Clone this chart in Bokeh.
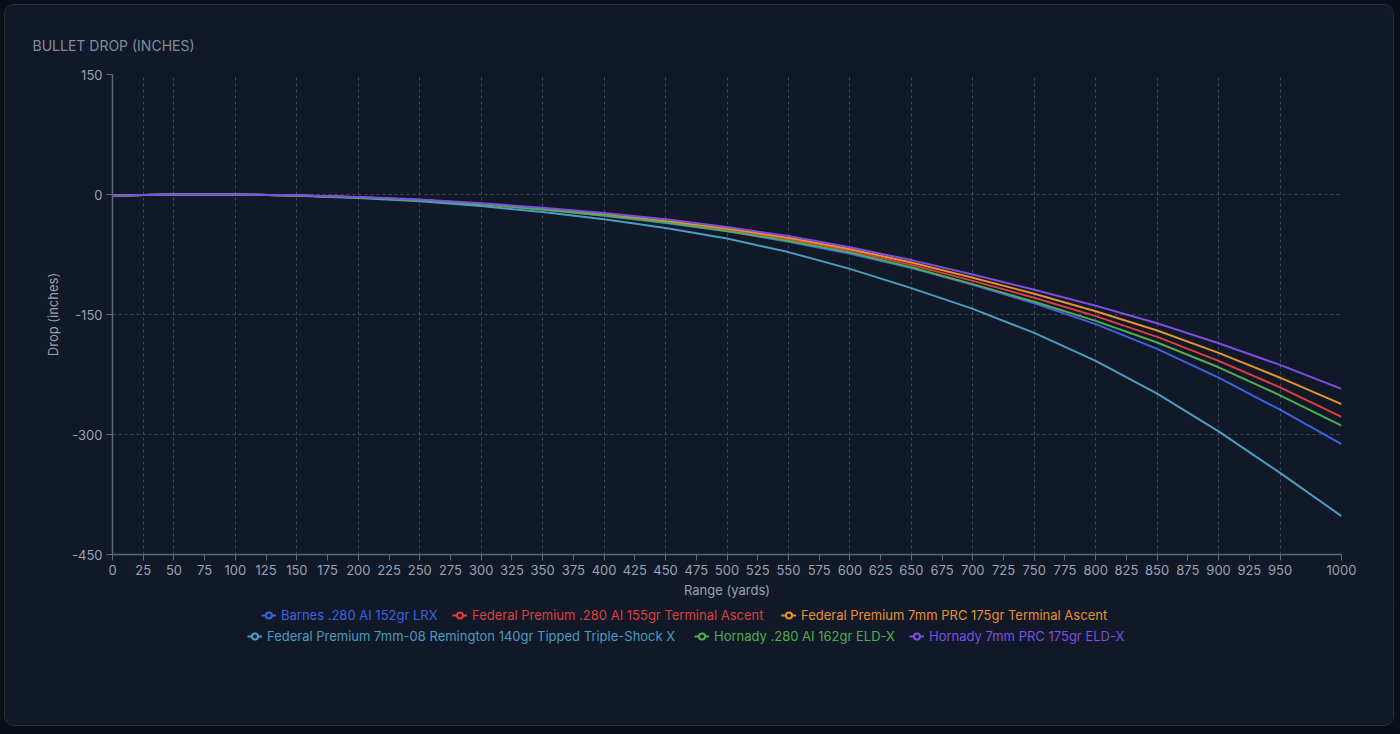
from bokeh.plotting import figure
from bokeh.layouts import column
from bokeh.models import (ColumnDataSource, FixedTicker, Legend, LegendItem,
                          GlobalInlineStyleSheet, PrintfTickFormatter)
from bokeh.embed import file_html
from bokeh.resources import INLINE

# range in yards
yards = [0, 25, 50, 100, 150, 200, 250, 300, 350, 400, 450, 500,
         550, 600, 650, 700, 750, 800, 850, 900, 950, 1000]

# drop in inches
barnes_280ai_152 = [-1.5, -0.6, 0.0, 0.0, -1.2, -3.6, -7.2, -12.3, -18.8, -26.5, -35.5, -46.0,
                    -59.0, -74.0, -92.0, -113.0, -136.0, -162.0, -193.0, -229.0, -269.0, -312.0]
fed_280ai_155 = [-1.5, -0.6, 0.0, 0.0, -1.1, -3.5, -7.0, -12.0, -18.2, -25.6, -34.2, -44.2,
                 -56.0, -70.0, -88.0, -108.0, -129.0, -152.0, -178.0, -208.0, -241.0, -278.0]
fed_7prc_175 = [-1.5, -0.6, 0.0, 0.0, -1.1, -3.4, -6.8, -11.6, -17.6, -24.8, -33.0, -42.5,
                -54.0, -68.0, -85.0, -104.0, -124.0, -146.0, -170.0, -198.0, -229.0, -262.0]
fed_708_140 = [-1.5, -0.5, 0.1, 0.0, -1.5, -4.5, -8.5, -14.5, -22.0, -31.0, -42.0, -55.0,
               -72.0, -93.0, -117.0, -143.0, -173.0, -208.0, -249.0, -296.0, -348.0, -402.0]
horn_280ai_162 = [-1.5, -0.6, 0.0, 0.0, -1.2, -3.6, -7.2, -12.2, -18.6, -26.2, -35.0, -45.5,
                  -58.0, -72.5, -91.0, -112.0, -134.0, -158.0, -185.0, -216.0, -251.0, -289.0]
horn_7prc_175 = [-1.5, -0.6, 0.0, 0.0, -1.0, -3.2, -6.3, -11.0, -16.5, -23.0, -31.0, -40.5,
                 -52.0, -66.0, -82.0, -100.0, -119.0, -139.0, -161.0, -186.0, -213.0, -243.0]

names = ["Barnes .280 AI 152gr LRX",
         "Federal Premium .280 AI 155gr Terminal Ascent",
         "Federal Premium 7mm PRC 175gr Terminal Ascent",
         "Federal Premium 7mm-08 Remington 140gr Tipped Triple-Shock X",
         "Hornady .280 AI 162gr ELD-X",
         "Hornady 7mm PRC 175gr ELD-X"]
series = [barnes_280ai_152, fed_280ai_155, fed_7prc_175,
          fed_708_140, horn_280ai_162, horn_7prc_175]
colors = ["#3d63e3", "#dc4040", "#e6922f", "#4a9cc2", "#4fae50", "#7d4fe0"]

x_ticks = list(range(0, 951, 25)) + [1000]
x_grid = [25] + list(range(50, 1001, 50))
y_ticks = [-450, -300, -150, 0, 150]

# legend spots in the legend strip (px from frame left, px from bottom)
legend_pos = [(149, 102), (340, 102), (669, 102),
              (135, 81), (582, 81), (797, 81)]

BG = "#111827"
FONT = "Inter"
TXT = "#9aa2b3"

p = figure(width=1388, height=600, x_range=(0, 1000), y_range=(-450, 150),
           output_backend="svg", toolbar_location=None,
           min_border_left=107, min_border_right=52,
           min_border_top=69, min_border_bottom=51)
p.background_fill_color = BG
p.border_fill_color = BG
p.outline_line_color = None

p.title.text = "BULLET DROP (INCHES)"
p.title.align = "left"
p.title.offset = -80
p.title.standoff = 42
p.title.text_font = FONT
p.title.text_font_size = "14px"
p.title.text_font_style = "normal"
p.title.text_color = "#828b9e"

for ax in (p.xaxis[0], p.yaxis[0]):
    ax.axis_line_color = "#5f687a"
    ax.axis_line_width = 1.5
    ax.major_tick_line_color = "#5f687a"
    ax.major_tick_out = 6
    ax.major_tick_in = 0
    ax.minor_tick_line_color = None
    ax.major_label_text_font = FONT
    ax.major_label_text_font_size = "13px"
    ax.major_label_text_color = TXT
    ax.axis_label_text_font = FONT
    ax.axis_label_text_font_size = "13px"
    ax.axis_label_text_font_style = "normal"
    ax.axis_label_text_color = TXT
    ax.formatter = PrintfTickFormatter(format="%d")

p.xaxis.ticker = FixedTicker(ticks=x_ticks)
p.xaxis.axis_label = "Range (yards)"
p.xaxis.major_label_standoff = 4
p.xaxis.axis_label_standoff = 4
p.yaxis.ticker = FixedTicker(ticks=y_ticks)
p.yaxis.axis_label = "Drop (inches)"
p.yaxis.major_label_standoff = 4
p.yaxis.axis_label_standoff = 8

p.xgrid.ticker = FixedTicker(ticks=x_grid)
p.ygrid.ticker = FixedTicker(ticks=y_ticks[1:])
for g in (p.xgrid[0], p.ygrid[0]):
    g.grid_line_color = "#46526a"
    g.grid_line_dash = "3 3"
    g.grid_line_alpha = 0.85

# strip under the chart that holds the two legend rows
leg = figure(width=1388, height=120, x_range=(0, 1), y_range=(0, 1),
             x_axis_type=None, y_axis_type=None,
             output_backend="svg", toolbar_location=None,
             min_border_left=0, min_border_right=0,
             min_border_top=0, min_border_bottom=0)
leg.background_fill_color = BG
leg.border_fill_color = BG
leg.outline_line_color = None
leg.xgrid.visible = False
leg.ygrid.visible = False

for name, vals, col, pos in zip(names, series, colors, legend_pos):
    src = ColumnDataSource(data=dict(x=yards, y=vals))
    p.line("x", "y", source=src, line_color=col, line_width=2)
    ln = leg.line("x", "y", source=src, line_color=col, line_width=2)
    dot = leg.scatter("x", "y", source=src, size=6, fill_color=BG,
                      line_color=col, line_width=2)
    ln.visible = False
    dot.visible = False
    lg = Legend(items=[LegendItem(label=name, renderers=[ln, dot])],
                location=pos, orientation="horizontal",
                padding=0, margin=0, spacing=0,
                glyph_width=15, glyph_height=16, label_height=16,
                label_standoff=5, border_line_color=None,
                background_fill_alpha=0,
                label_text_font=FONT, label_text_font_size="13px",
                label_text_color=col)
    leg.add_layout(lg, "center")

page = column(p, leg, spacing=0)
page.styles = {"border": "1px solid #273142", "border-radius": "10px",
               "overflow": "hidden", "margin": "4px", "background": BG}
page.stylesheets = [GlobalInlineStyleSheet(css="body{background:#0a0e17;}")]

open("out.html", "w").write(file_html(page, INLINE))
